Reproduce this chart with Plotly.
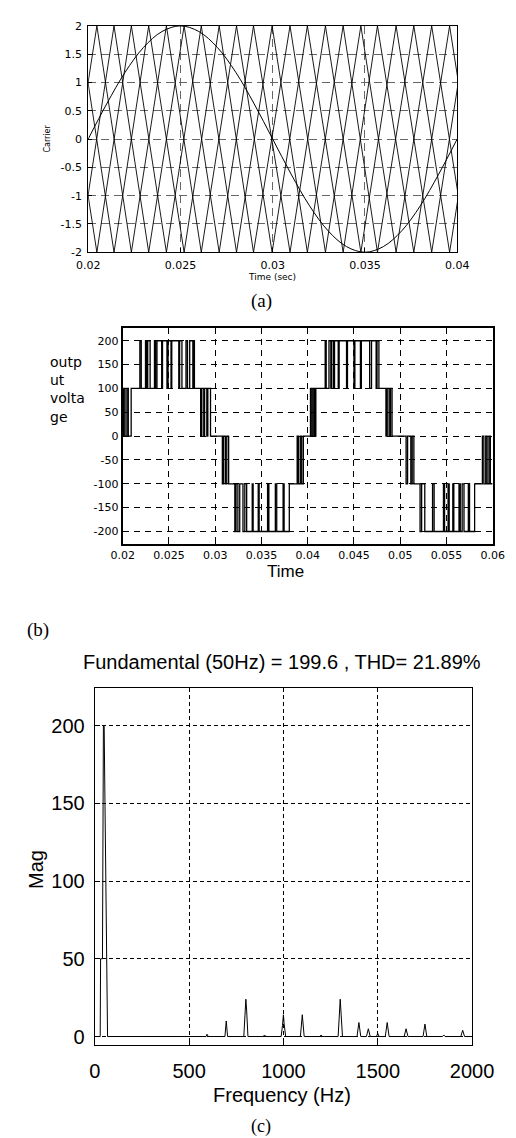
import plotly.graph_objects as go

# ================= DATA =================
# (a) carrier triangle vertex times (peaks at +2 / valleys at -2 alternate between 4 carriers)
carrier_vertex_t = [0.01857, 0.01952, 0.02047, 0.02140, 0.02234, 0.02328, 0.02424, 0.02520,
                    0.02613, 0.02710, 0.02804, 0.02896, 0.02997, 0.03094, 0.03188, 0.03286,
                    0.03382, 0.03478, 0.03568, 0.03669, 0.03765, 0.03862, 0.03959, 0.04054, 0.04150]
carrier_peak = 2.0
carrier_valley = -2.0
sine_t = [0.020, 0.021, 0.022, 0.023, 0.024, 0.025, 0.026, 0.027, 0.028, 0.029, 0.030,
          0.031, 0.032, 0.033, 0.034, 0.035, 0.036, 0.037, 0.038, 0.039, 0.040]
sine_v = [0.0, 0.62, 1.18, 1.62, 1.90, 2.0, 1.90, 1.62, 1.18, 0.62, 0.0,
          -0.62, -1.18, -1.62, -1.90, -2.0, -1.90, -1.62, -1.18, -0.62, 0.0]
a_xticks = [0.02, 0.025, 0.03, 0.035, 0.04]
a_xticklabels = ["0.02", "0.025", "0.03", "0.035", "0.04"]
a_yticks = [-2, -1.5, -1, -0.5, 0, 0.5, 1, 1.5, 2]
a_yticklabels = ["-2", "-1.5", "-1", "-0.5", "0", "0.5", "1", "1.5", "2"]

# (b) output voltage: switching instants and level after each instant
b_t = [0.02000, 0.02010, 0.02025, 0.02045, 0.02060, 0.02091,
       0.02185, 0.02200, 0.02246, 0.02260, 0.02270, 0.02296, 0.02343, 0.02355, 0.02370, 0.02421,
       0.02430, 0.02478, 0.02490, 0.02522, 0.02530, 0.02606, 0.02615, 0.02640, 0.02684, 0.02700,
       0.02724, 0.02758, 0.02765, 0.02775,
       0.02842, 0.02855, 0.02876, 0.02885, 0.02909, 0.02920, 0.02949,
       0.03077, 0.03090, 0.03110, 0.03125, 0.03145,
       0.03212, 0.03225, 0.03245, 0.03265, 0.03300, 0.03320, 0.03340, 0.03400, 0.03410, 0.03465,
       0.03475, 0.03566, 0.03580, 0.03650, 0.03665, 0.03734, 0.03745, 0.03801,
       0.03886, 0.03900, 0.03920, 0.03935, 0.03953,
       0.04030, 0.04045, 0.04060, 0.04075, 0.04088,
       0.04189, 0.04200, 0.04230, 0.04250, 0.04260, 0.04280, 0.04290, 0.04330, 0.04340, 0.04420,
       0.04430, 0.04500, 0.04510, 0.04570, 0.04580, 0.04670, 0.04690, 0.04740, 0.04750, 0.04770,
       0.04846, 0.04860, 0.04880, 0.04895, 0.04912,
       0.05064, 0.05080, 0.05115, 0.05130, 0.05148,
       0.05215, 0.05232, 0.05266, 0.05350, 0.05367, 0.05468, 0.05480, 0.05518, 0.05530, 0.05569,
       0.05580, 0.05636, 0.05650, 0.05670, 0.05690, 0.05737, 0.05750, 0.05805,
       0.05889, 0.05905, 0.05925, 0.05940, 0.05960, 0.05975, 0.06000]
b_v = [0, 100, 0, 100, 0, 100,
       200, 100, 200, 100, 200, 100, 200, 100, 200, 100,
       200, 100, 200, 100, 200, 100, 200, 100, 200, 100,
       200, 100, 200, 100,
       0, 100, 0, 100, 0, 100, 0,
       -100, 0, -100, 0, -100,
       -200, -100, -200, -100, -200, -100, -200, -100, -200, -100,
       -200, -100, -200, -100, -200, -100, -200, -100,
       0, -100, 0, -100, 0,
       100, 0, 100, 0, 100,
       200, 100, 200, 100, 200, 100, 200, 100, 200, 100,
       200, 100, 200, 100, 200, 100, 200, 100, 200, 100,
       0, 100, 0, 100, 0,
       -100, 0, -100, 0, -100,
       -200, -100, -200, -100, -200, -100, -200, -100, -200, -100,
       -200, -100, -200, -100, -200, -100, -200, -100,
       0, -100, 0, -100, 0, -100, -100]
b_xticks = [0.02, 0.025, 0.03, 0.035, 0.04, 0.045, 0.05, 0.055, 0.06]
b_xticklabels = ["0.02", "0.025", "0.03", "0.035", "0.04", "0.045", "0.05", "0.055", "0.06"]
b_yticks = [-200, -150, -100, -50, 0, 50, 100, 150, 200]
b_yticklabels = ["-200", "-150", "-100", "-50", "0", "50", "100", "150", "200"]
b_ylabel_lines = ["outp", "ut", "volta", "ge"]

# (c) harmonic spectrum
c_f = [0, 29, 31, 41, 46, 50, 53, 58, 63, 68,
       590, 595, 602, 690, 697, 704, 790, 795, 801, 805, 812,
       893, 900, 907, 988, 995, 1000, 1004, 1012, 1090, 1100, 1110,
       1193, 1200, 1207, 1290, 1297, 1301, 1306, 1313, 1390, 1400, 1410,
       1440, 1450, 1460, 1493, 1500, 1507, 1540, 1550, 1560, 1640, 1650, 1660,
       1740, 1750, 1760, 1843, 1850, 1857, 1940, 1950, 1960, 2000]
c_m = [0, 0, 50, 50, 200, 199.6, 165, 100, 33, 0,
       0, 1.5, 0, 0, 10, 0, 0, 12, 24, 17, 0,
       0, 1, 0, 0, 7, 14, 8, 0, 0, 14, 0,
       0, 1, 0, 0, 12, 24, 14, 0, 0, 9, 0,
       0, 5, 0, 0, 2, 0, 0, 9, 0, 0, 5, 0,
       0, 8, 0, 0, 1, 0, 0, 4, 0, 0]
c_xticks = [0, 500, 1000, 1500, 2000]
c_yticks = [0, 50, 100, 150, 200]
c_title = "Fundamental (50Hz) = 199.6 , THD= 21.89%"

# ================= LAYOUT HELPERS =================
W, H = 516, 1138


def dom_x(x0, x1):
    return [x0 / W, x1 / W]


def dom_y(y_top, y_bot):
    return [1 - y_bot / H, 1 - y_top / H]


def P(x, y):
    return x / W, 1 - y / H


fig = go.Figure()

# ---- (a) carriers ----
for c in range(4):
    xs, ys = [], []
    for k, t in enumerate(carrier_vertex_t):
        if k % 2 == c % 2:
            xs.append(t)
            ys.append(carrier_peak if (k - c) % 4 == 0 else carrier_valley)
    fig.add_trace(go.Scatter(x=xs, y=ys, mode="lines", line=dict(color="black", width=0.9),
                             xaxis="x", yaxis="y", showlegend=False, hoverinfo="skip"))
fig.add_trace(go.Scatter(x=sine_t, y=sine_v, mode="lines", line=dict(color="black", width=1, shape="spline"),
                         xaxis="x", yaxis="y", showlegend=False))

# ---- (b) ----
fig.add_trace(go.Scatter(x=b_t, y=b_v, mode="lines", line=dict(color="black", width=1.3, shape="hv"),
                         xaxis="x2", yaxis="y2", showlegend=False))

# ---- (c) ----
fig.add_trace(go.Scatter(x=c_f, y=c_m, mode="lines", line=dict(color="black", width=1),
                         xaxis="x3", yaxis="y3", showlegend=False))

FA = "DejaVu Sans, Arial, sans-serif"
FC = "Liberation Sans, Arial, sans-serif"
FS = "Liberation Serif, Times New Roman, serif"

common = dict(showline=True, linecolor="black", mirror=True, zeroline=False,
              ticks="inside", tickcolor="black", showgrid=True)

fig.update_layout(
    width=W, height=H, autosize=False,
    margin=dict(l=0, r=0, t=0, b=0),
    paper_bgcolor="white", plot_bgcolor="white",
    xaxis=dict(domain=dom_x(73, 468), range=[0.02, 0.04], tickvals=a_xticks, ticktext=a_xticklabels,
               gridcolor="#666666", griddash="8px,5px", gridwidth=1, linewidth=1, ticklen=4,
               tickfont=dict(family=FA, size=11, color="black"), anchor="y", ticklabelstandoff=3, **common),
    yaxis=dict(domain=dom_y(12, 241), range=[-2, 2], tickvals=a_yticks, ticktext=a_yticklabels,
               gridcolor="#666666", griddash="8px,5px", gridwidth=1, linewidth=1, ticklen=4,
               tickfont=dict(family=FA, size=11, color="black"), anchor="x", ticklabelstandoff=3, **common),
    xaxis2=dict(domain=dom_x(110, 506), range=[0.02, 0.06], tickvals=b_xticks, ticktext=b_xticklabels,
                gridcolor="black", griddash="6px,5px", gridwidth=1, linewidth=2, ticklen=4,
                tickfont=dict(family=FA, size=11, color="black"), anchor="y2", ticklabelstandoff=0, **common),
    yaxis2=dict(domain=dom_y(318, 536), range=[-226, 226], tickvals=b_yticks, ticktext=b_yticklabels,
                gridcolor="black", griddash="6px,5px", gridwidth=1, linewidth=2, ticklen=4,
                tickfont=dict(family=FA, size=11, color="black"), anchor="x2", ticklabelstandoff=0, **common),
    xaxis3=dict(domain=dom_x(80, 484), range=[0, 2000], tickvals=c_xticks,
                gridcolor="black", griddash="4px,3px", gridwidth=1, linewidth=1, ticklen=5,
                tickfont=dict(family=FC, size=20, color="black"), anchor="y3", ticklabelstandoff=8, **common),
    yaxis3=dict(domain=dom_y(682, 1043), range=[-5.5, 224], tickvals=c_yticks,
                gridcolor="black", griddash="4px,3px", gridwidth=1, linewidth=1, ticklen=5,
                tickfont=dict(family=FC, size=20, color="black"), anchor="x3", ticklabelstandoff=5, **common),
)


def ann(text, x, y, size, family, angle=0, xanchor="center", align="center"):
    px, py = P(x, y)
    fig.add_annotation(text=text, x=px, y=py, xref="paper", yref="paper", showarrow=False,
                       font=dict(family=family, size=size, color="black"), textangle=angle,
                       xanchor=xanchor, yanchor="middle", align=align)


ann("Carrier", 30, 126, 8, FA, angle=-90)
ann("Time (sec)", 270, 266, 9, FA)
ann("(a)", 258, 290, 19, FS)
ann("<br>".join(b_ylabel_lines), 30, 380, 14, FA, xanchor="left", align="left")
ann("Time", 284, 564, 17, FC)
ann("(b)", 19, 623, 19, FS)
ann(c_title, 280, 655, 20, FC)
ann("Mag", 17, 865, 20, FC, angle=-90)
ann("Frequency (Hz)", 280, 1093, 20, FC)
ann("(c)", 258, 1125, 18, FS)

fig.write_html("out.html")
